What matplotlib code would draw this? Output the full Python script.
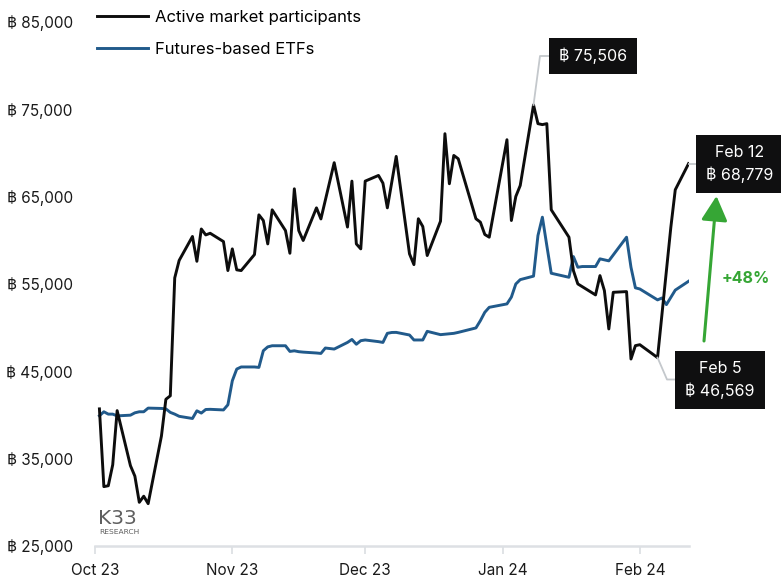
import matplotlib
matplotlib.use("Agg")
import matplotlib.pyplot as plt
import matplotlib.dates as mdates
from matplotlib.lines import Line2D
from matplotlib.patches import FancyArrowPatch
from matplotlib.ticker import FuncFormatter, FixedLocator
import pandas as pd

plt.rcParams["font.family"] = ["Inter", "DejaVu Sans"]

# Active market participants (daily, trading days)
active_dates = [
    "2023-10-02", "2023-10-03", "2023-10-04", "2023-10-05", "2023-10-06",
    "2023-10-09", "2023-10-10", "2023-10-11", "2023-10-12", "2023-10-13",
    "2023-10-16", "2023-10-17", "2023-10-18", "2023-10-19", "2023-10-20",
    "2023-10-23", "2023-10-24", "2023-10-25", "2023-10-26", "2023-10-27",
    "2023-10-30", "2023-10-31", "2023-11-01", "2023-11-02", "2023-11-03",
    "2023-11-06", "2023-11-07", "2023-11-08", "2023-11-09", "2023-11-10",
    "2023-11-13", "2023-11-14", "2023-11-15", "2023-11-16", "2023-11-17",
    "2023-11-20", "2023-11-21", "2023-11-24",
    "2023-11-27", "2023-11-28", "2023-11-29", "2023-11-30", "2023-12-01",
    "2023-12-04", "2023-12-05", "2023-12-06", "2023-12-08",
    "2023-12-11", "2023-12-12", "2023-12-13", "2023-12-14", "2023-12-15",
    "2023-12-18", "2023-12-19", "2023-12-20", "2023-12-21", "2023-12-22",
    "2023-12-26", "2023-12-27", "2023-12-28", "2023-12-29",
    "2024-01-02", "2024-01-03", "2024-01-04", "2024-01-05",
    "2024-01-08", "2024-01-09", "2024-01-10", "2024-01-11", "2024-01-12",
    "2024-01-16", "2024-01-17", "2024-01-18",
    "2024-01-22", "2024-01-23", "2024-01-24", "2024-01-25", "2024-01-26",
    "2024-01-29", "2024-01-30", "2024-01-31", "2024-02-01",
    "2024-02-05", "2024-02-08", "2024-02-09", "2024-02-12",
]
active_values = [
    40700, 31800, 31900, 34300, 40500,
    34200, 33000, 30000, 30700, 29850,
    37600, 41800, 42200, 55700, 57700,
    60440, 57600, 61300, 60620, 60810,
    59860, 56540, 59020, 56620, 56540,
    58370, 62920, 62270, 59590, 63490,
    61120, 58520, 65900, 61120, 59980,
    63720, 62450, 68890,
    61520, 66780, 59590, 59020, 66780,
    67430, 66550, 63720, 69610,
    58450, 57220, 62470, 61580, 58260,
    62190, 72210, 66480, 69720, 69340,
    62470, 62080, 60670, 60360,
    71520, 62270, 65020, 66280,
    75506, 73360, 73250, 73360, 63500,
    60360, 56540, 55010,
    53750, 55960, 54240, 49850, 54050,
    54130, 46410, 47940, 48050,
    46569, 61500, 65790, 68779,
]

# Futures-based ETFs
etf_dates = [
    "2023-10-02", "2023-10-03", "2023-10-04", "2023-10-05", "2023-10-06",
    "2023-10-09", "2023-10-10", "2023-10-11", "2023-10-12", "2023-10-13",
    "2023-10-16", "2023-10-17", "2023-10-18", "2023-10-19", "2023-10-20",
    "2023-10-23", "2023-10-24", "2023-10-25", "2023-10-26", "2023-10-27",
    "2023-10-30", "2023-10-31", "2023-11-01", "2023-11-02", "2023-11-03",
    "2023-11-06", "2023-11-07", "2023-11-08", "2023-11-09", "2023-11-10",
    "2023-11-13", "2023-11-14", "2023-11-15", "2023-11-16", "2023-11-17",
    "2023-11-20", "2023-11-21", "2023-11-22", "2023-11-24",
    "2023-11-27", "2023-11-28", "2023-11-29", "2023-11-30", "2023-12-01",
    "2023-12-04", "2023-12-05", "2023-12-06", "2023-12-07", "2023-12-08",
    "2023-12-11", "2023-12-12", "2023-12-13", "2023-12-14", "2023-12-15",
    "2023-12-18", "2023-12-19", "2023-12-20", "2023-12-21", "2023-12-22",
    "2023-12-26", "2023-12-27", "2023-12-28", "2023-12-29",
    "2024-01-02", "2024-01-03", "2024-01-04", "2024-01-05",
    "2024-01-08", "2024-01-09", "2024-01-10", "2024-01-11", "2024-01-12",
    "2024-01-16", "2024-01-17", "2024-01-18", "2024-01-19",
    "2024-01-22", "2024-01-23", "2024-01-25",
    "2024-01-29", "2024-01-30", "2024-01-31", "2024-02-01",
    "2024-02-05", "2024-02-06", "2024-02-07", "2024-02-09", "2024-02-12",
]
etf_values = [
    39910, 40370, 40100, 40100, 39900,
    39980, 40250, 40370, 40370, 40790,
    40750, 40700, 40300, 40100, 39850,
    39600, 40480, 40220, 40630, 40650,
    40580, 41170, 43920, 45260, 45500,
    45500, 45450, 47360, 47800, 47930,
    47930, 47280, 47350, 47250, 47200,
    47100, 47050, 47670, 47550,
    48310, 48650, 48100, 48510, 48590,
    48400, 48310, 49350, 49450, 49460,
    49160, 48590, 48590, 48590, 49580,
    49200, 49250, 49300, 49350, 49460,
    49970, 50800, 51760, 52330,
    52720, 53500, 55000, 55500,
    55900, 60550, 62650, 59400, 56230,
    55770, 58140, 56920, 57000,
    57000, 57880, 57650,
    60360, 56920, 54560, 54430,
    53180, 53400, 52640, 54300, 55310,
]

legend_labels = ["Active market participants", "Futures-based ETFs"]
y_ticks = [25000, 35000, 45000, 55000, 65000, 75000, 85000]
peak_value = 75506
low_date, low_value = "2024-02-05", 46569
last_date, last_value = "2024-02-12", 68779
gain_text = "+48%"

BLACK = "#0d0d0d"
BLUE = "#215a8b"
GREEN = "#36a635"
GREY_LINE = "#c4c8cc"
AXIS_GREY = "#dde0e4"

W, H = 781, 581
fig = plt.figure(figsize=(W / 100, H / 100), dpi=100)
ax = fig.add_axes([95 / W, 1 - 546 / H, (689 - 95) / W, (546 - 22) / H])

ad = pd.to_datetime(active_dates)
ed = pd.to_datetime(etf_dates)

ax.plot(ed, etf_values, color=BLUE, lw=2.1, zorder=3)
ax.plot(ad, active_values, color=BLACK, lw=2.1, zorder=4)

x0 = pd.Timestamp("2023-10-01")
ax.set_xlim(x0, x0 + pd.Timedelta(days=134.1))
ax.set_ylim(y_ticks[0], y_ticks[-1])

ax.yaxis.set_major_locator(FixedLocator(y_ticks))
ax.yaxis.set_major_formatter(FuncFormatter(lambda v, p: f"\u0e3f {v:,.0f}"))
ax.xaxis.set_major_locator(mdates.MonthLocator())
ax.xaxis.set_major_formatter(mdates.DateFormatter("%b %y"))

for s in ["top", "right", "left"]:
    ax.spines[s].set_visible(False)
ax.spines["bottom"].set_color(AXIS_GREY)
ax.spines["bottom"].set_linewidth(1.8)
ax.tick_params(axis="y", length=0, pad=16, labelsize=11, labelcolor="#1a1a1a")
ax.tick_params(axis="x", length=6, width=1.3, color=AXIS_GREY, pad=6,
               labelsize=11, labelcolor="#1a1a1a")

# legend
handles = [Line2D([], [], color=BLACK, lw=2.1), Line2D([], [], color=BLUE, lw=2.1)]
fig.legend(handles, legend_labels, loc="upper left",
           bbox_to_anchor=(97 / W, 1 - 10 / H), frameon=False, fontsize=12,
           handlelength=3.05, handletextpad=0.45, labelspacing=1.0,
           borderpad=0, borderaxespad=0)

# logo
fig.text(98 / W, 1 - 524 / H, "K33", fontsize=14.5, color="#5f5f5f",
         ha="left", va="baseline", family="DejaVu Sans")
fig.text(99 / W, 1 - 528.5 / H, "RESEARCH", fontsize=5.4, color="#5f5f5f",
         ha="left", va="top", family="DejaVu Sans")


def fig_frac(px, py):
    return (px / W, 1 - py / H)


def data_to_frac(x, y):
    disp = ax.transData.transform((mdates.date2num(pd.Timestamp(x)), y))
    return fig.transFigure.inverted().transform(disp)


box = dict(boxstyle="square,pad=0.62", facecolor="#0f0f10", edgecolor="none")
text_kw = dict(color="white", fontsize=11.5, ha="center", va="center",
               linespacing=1.5)

# peak label
peak_date = ad[active_values.index(peak_value)]
pk = data_to_frac(peak_date, peak_value)
a, b = fig_frac(540, 56)
c, d = fig_frac(551, 56)
fig.add_artist(Line2D([pk[0], a, c], [pk[1], b, d], color=GREY_LINE, lw=1.3,
                      transform=fig.transFigure, zorder=2))
fig.text(*fig_frac(593, 56), f"\u0e3f {peak_value:,}", bbox=box, **text_kw)

# last value label
lp = data_to_frac(last_date, last_value)
c, _ = fig_frac(699, 163)
fig.add_artist(Line2D([lp[0], c], [lp[1], lp[1]], color=GREY_LINE, lw=1.3,
                      transform=fig.transFigure, zorder=2))
last_ts = pd.Timestamp(last_date)
fig.text(*fig_frac(740, 164),
         f"{last_ts.strftime('%b')} {last_ts.day}\n\u0e3f {last_value:,}",
         bbox=box, **text_kw)

# low label
lo = data_to_frac(low_date, low_value)
a, b = fig_frac(667, 379.5)
c, d = fig_frac(678, 379.5)
fig.add_artist(Line2D([lo[0], a, c], [lo[1], b, d], color=GREY_LINE, lw=1.3,
                      transform=fig.transFigure, zorder=2))
low_ts = pd.Timestamp(low_date)
fig.text(*fig_frac(720, 380),
         f"{low_ts.strftime('%b')} {low_ts.day}\n\u0e3f {low_value:,}",
         bbox=box, **text_kw)

# gain arrow
arrow = FancyArrowPatch(fig_frac(704, 341), fig_frac(716.5, 196),
                        transform=fig.transFigure,
                        arrowstyle="-|>,head_length=0.75,head_width=0.4",
                        mutation_scale=20, color=GREEN, lw=2.2,
                        shrinkA=0, shrinkB=0)
fig.add_artist(arrow)
fig.text(*fig_frac(746, 278), gain_text, color=GREEN, fontsize=11.5,
         fontweight="bold", ha="center", va="center")

fig.savefig("out.png", dpi=100)
